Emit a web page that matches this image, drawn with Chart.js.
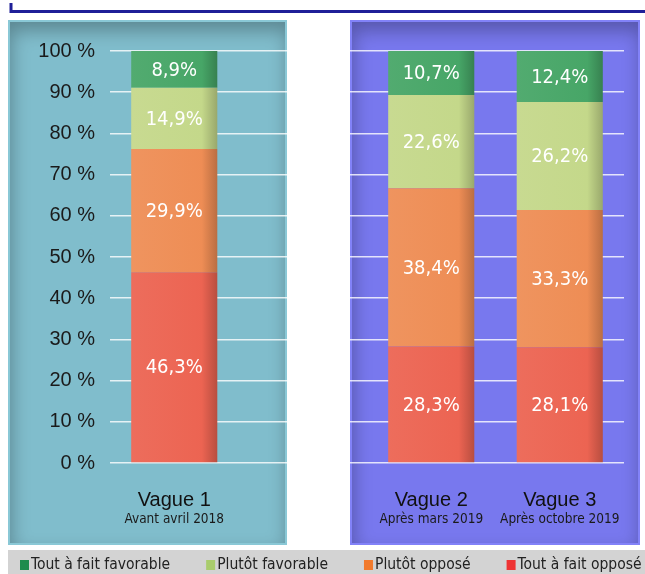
<!DOCTYPE html>
<html>
<head>
<meta charset="utf-8">
<script src="https://cdn.jsdelivr.net/npm/chart.js@4.4.1/dist/chart.umd.min.js"></script>
<style>
html, body { margin: 0; padding: 0; background: #fff; }
canvas { display: block; }
</style>
</head>
<body>
<canvas id="myChart" width="645" height="574"></canvas>
<script>
// categories (the empty one leaves the gap between the two panels)
var waves = ['Vague 1', '', 'Vague 2', 'Vague 3'];
var waveDates = ['Avant avril 2018', '', 'Après mars 2019', 'Après octobre 2019'];

// series, bottom to top
var toutOppose = [46.3, null, 28.3, 28.1];
var plutotOppose = [29.9, null, 38.4, 33.3];
var plutotFavorable = [14.9, null, 22.6, 26.2];
var toutFavorable = [8.9, null, 10.7, 12.4];

var seriesNames = ['Tout à fait opposé', 'Plutôt opposé', 'Plutôt favorable', 'Tout à fait favorable'];
var barColors = ['#ec6452', '#ee8d55', '#c4d88a', '#47a667'];
var legendColors = ['#ee3333', '#f27a2c', '#a9cc6c', '#1d8b4d'];

var yMax = 100, yStep = 10;

var condensed = "'DejaVu Sans Condensed', 'Liberation Sans Narrow', sans-serif";
var BAR_PCT = 0.67;

function shadeColor(hex, f) {
	var n = parseInt(hex.slice(1), 16);
	var r = (n >> 16) & 255, g = (n >> 8) & 255, b = n & 255;
	if (f < 0) {
		r = Math.round(r * (1 + f)); g = Math.round(g * (1 + f)); b = Math.round(b * (1 + f));
	} else {
		r = Math.round(r + (255 - r) * f); g = Math.round(g + (255 - g) * f); b = Math.round(b + (255 - b) * f);
	}
	return 'rgb(' + r + ',' + g + ',' + b + ')';
}

// horizontal gradient to fake the bevel on each bar
function barFill(base) {
	return function(context) {
		var chart = context.chart;
		var xs = chart.scales && chart.scales.x;
		if (!xs || !chart.chartArea) return base;
		var cx = xs.getPixelForValue(context.dataIndex);
		var w = (xs.width / waves.length) * BAR_PCT;
		var g = chart.ctx.createLinearGradient(cx - w / 2, 0, cx + w / 2, 0);
		g.addColorStop(0, shadeColor(base, 0.06));
		g.addColorStop(0.82, base);
		g.addColorStop(1, shadeColor(base, -0.22));
		return g;
	};
}

var seriesData = [toutOppose, plutotOppose, plutotFavorable, toutFavorable];
var datasets = [];
for (var i = 0; i < seriesData.length; i++) {
	datasets.push({
		label: seriesNames[i],
		data: seriesData[i],
		backgroundColor: barFill(barColors[i]),
		borderWidth: 0,
		barPercentage: BAR_PCT,
		categoryPercentage: 1
	});
}

// background panel with a soft inner shadow
function panel(ctx, x, y, w, h, color, edge) {
	ctx.save();
	ctx.fillStyle = color;
	ctx.fillRect(x, y, w, h);
	ctx.beginPath();
	ctx.rect(x + 2, y + 2, w - 4, h - 4);
	ctx.clip();
	ctx.shadowColor = 'rgba(0,0,0,0.28)';
	ctx.shadowBlur = 18;
	ctx.shadowOffsetX = 2;
	ctx.shadowOffsetY = 9;
	ctx.beginPath();
	ctx.rect(x - 60, y - 60, w + 120, h + 120);
	ctx.rect(x + 2, y + 2, w - 4, h - 4);
	ctx.fillStyle = color;
	ctx.fill('evenodd');
	ctx.restore();
	ctx.save();
	ctx.strokeStyle = edge;
	ctx.lineWidth = 2;
	ctx.strokeRect(x + 1, y + 1, w - 2, h - 2);
	ctx.restore();
}

var decorPlugin = {
	id: 'decor',
	beforeDraw: function(chart) {
		var ctx = chart.ctx;
		ctx.save();
		ctx.fillStyle = '#fff';
		ctx.fillRect(0, 0, chart.width, chart.height);
		ctx.restore();
		panel(ctx, 8, 20, 279, 525, '#80bdcc', '#8ac8d6');
		panel(ctx, 350, 20, 290, 525, '#7878ee', '#8282f8');

		// dark blue rule at the top
		ctx.save();
		ctx.strokeStyle = '#1f1f98';
		ctx.lineWidth = 3;
		ctx.beginPath();
		ctx.moveTo(11, 3);
		ctx.lineTo(11, 11.5);
		ctx.lineTo(chart.width, 11.5);
		ctx.stroke();
		ctx.restore();
	},
	afterDatasetsDraw: function(chart) {
		var ctx = chart.ctx;
		var xs = chart.scales.x;

		// values inside the segments
		ctx.save();
		ctx.fillStyle = '#ffffff';
		ctx.font = '20px ' + condensed;
		ctx.textAlign = 'center';
		ctx.textBaseline = 'middle';
		chart.data.datasets.forEach(function(ds, di) {
			var meta = chart.getDatasetMeta(di);
			meta.data.forEach(function(bar, j) {
				var v = ds.data[j];
				if (v == null) return;
				var p = bar.getProps(['x', 'y', 'base'], true);
				ctx.fillText(v.toFixed(1).replace('.', ',') + '%', p.x, (p.y + p.base) / 2 + 1);
			});
		});
		ctx.restore();

		// second line of the category labels
		ctx.save();
		ctx.fillStyle = '#1a1a1a';
		ctx.font = '13.5px ' + condensed;
		ctx.textAlign = 'center';
		ctx.textBaseline = 'middle';
		for (var k = 0; k < waveDates.length; k++) {
			if (!waveDates[k]) continue;
			ctx.fillText(waveDates[k], xs.getPixelForValue(k), 519);
		}
		ctx.restore();

		// legend band
		ctx.save();
		ctx.fillStyle = '#d3d3d3';
		ctx.fillRect(8, 550, chart.width - 8, chart.height - 550);
		ctx.font = '15.5px ' + condensed;
		ctx.textBaseline = 'middle';
		ctx.textAlign = 'left';
		var lx = 20;
		for (var n = seriesNames.length - 1; n >= 0; n--) {
			ctx.fillStyle = legendColors[n];
			ctx.fillRect(lx, 560, 9, 10);
			ctx.fillStyle = '#222';
			ctx.fillText(seriesNames[n], lx + 11, 565);
			lx += 11 + ctx.measureText(seriesNames[n]).width + 36;
		}
		ctx.restore();
	}
};

var myChart = new Chart(document.getElementById('myChart').getContext('2d'), {
	type: 'bar',
	data: { labels: waves, datasets: datasets },
	options: {
		responsive: false,
		maintainAspectRatio: false,
		animation: false,
		devicePixelRatio: 1,
		layout: { padding: { top: 51, right: 21, left: 0, bottom: 0 } },
		plugins: {
			legend: { display: false },
			tooltip: { enabled: false }
		},
		scales: {
			x: {
				stacked: true,
				grid: { display: false },
				border: { display: false },
				ticks: {
					color: '#111',
					font: { family: "'Liberation Sans', Arial, sans-serif", size: 20 },
					padding: 17,
					maxRotation: 0,
					autoSkip: false
				},
				afterFit: function(scale) { scale.height = 111; }
			},
			y: {
				stacked: true,
				min: 0,
				max: yMax,
				grid: { color: 'rgba(255,255,255,0.8)', lineWidth: 1.5, drawTicks: false },
				border: { display: false },
				ticks: {
					stepSize: yStep,
					color: '#1a1a1a',
					padding: 15,
					font: { family: "'Liberation Sans', Arial, sans-serif", size: 20 },
					callback: function(v) { return v + ' %'; }
				},
				afterFit: function(scale) { scale.width = 110; }
			}
		}
	},
	plugins: [decorPlugin]
});
</script>
</body>
</html>
